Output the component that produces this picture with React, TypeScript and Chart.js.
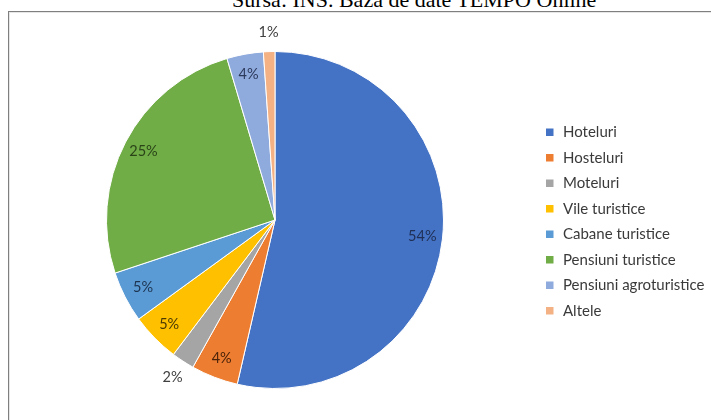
import React, { useEffect, useRef } from "react";
import { Chart, registerables } from "chart.js";

Chart.register(...registerables);

const titleText = "Sursa: INS. Baza de date TEMPO Online";
const categories = [
  "Hoteluri",
  "Hosteluri",
  "Moteluri",
  "Vile turistice",
  "Cabane turistice",
  "Pensiuni turistice",
  "Pensiuni agroturistice",
  "Altele",
];
const shares = [53.6, 4.5, 2.2, 4.7, 4.9, 25.5, 3.5, 1.1];
const percentLabels = ["54%", "4%", "2%", "5%", "5%", "25%", "4%", "1%"];
const labelOutside = [false, false, true, false, false, false, false, true];
const sliceColors = [
  "#4472C4",
  "#ED7D31",
  "#A5A5A5",
  "#FFC000",
  "#5B9BD5",
  "#70AD47",
  "#8FAADC",
  "#F4B183",
];
const labelColors = [
  "#1F2F55",
  "#4A230A",
  "#404040",
  "#4A3A05",
  "#1D3450",
  "#2A4418",
  "#2C3A5C",
  "#404040",
];

const LEGEND_X = 546;
const LEGEND_Y0 = 132;
const LEGEND_STEP = 25.5;

const labelPlugin = {
  id: "pctLabels",
  afterDatasetsDraw(chart: any) {
    const ctx = chart.ctx;
    const meta = chart.getDatasetMeta(0);
    ctx.save();
    ctx.font = "14.5px Lato";
    ctx.textAlign = "center";
    ctx.textBaseline = "middle";
    meta.data.forEach((arc: any, i: number) => {
      const p = arc.getProps(["x", "y", "startAngle", "endAngle", "outerRadius"], true);
      const mid = (p.startAngle + p.endAngle) / 2;
      const r = labelOutside[i] ? p.outerRadius + 19 : p.outerRadius * 0.88;
      ctx.fillStyle = labelColors[i];
      ctx.fillText(percentLabels[i], p.x + Math.cos(mid) * r, p.y + Math.sin(mid) * r);
    });
    ctx.restore();
  },
};

const legendPlugin = {
  id: "customLegend",
  afterDraw(chart: any) {
    const ctx = chart.ctx;
    const labels = chart.data.labels as string[];
    const colors = chart.data.datasets[0].backgroundColor as string[];
    ctx.save();
    ctx.font = "15px Lato";
    ctx.textBaseline = "middle";
    ctx.textAlign = "left";
    labels.forEach((lab, i) => {
      const y = LEGEND_Y0 + i * LEGEND_STEP;
      ctx.fillStyle = colors[i];
      ctx.fillRect(LEGEND_X, y - 3.5, 7.5, 7.5);
      ctx.fillStyle = "#3a3a3a";
      ctx.fillText(lab, LEGEND_X + 17, y + 0.5);
    });
    ctx.restore();
  },
};

export default function App() {
  const canvasRef = useRef<HTMLCanvasElement | null>(null);

  useEffect(() => {
    if (!canvasRef.current) return;
    const chart = new Chart(canvasRef.current, {
      type: "pie",
      data: {
        labels: categories,
        datasets: [
          {
            data: shares,
            backgroundColor: sliceColors,
            borderColor: "#ffffff",
            borderWidth: 1,
          },
        ],
      },
      options: {
        responsive: false,
        animation: false,
        layout: { padding: { left: 106, right: 267, top: 51, bottom: 31 } },
        plugins: {
          legend: { display: false },
          tooltip: { enabled: false },
          title: { display: false },
        },
      },
      plugins: [labelPlugin, legendPlugin],
    });
    return () => chart.destroy();
  }, []);

  return (
    <div style={{ position: "fixed", left: 0, top: 0, width: 711, height: 420, overflow: "hidden", background: "#fff" }}>
      <div
        style={{
          position: "absolute",
          left: 8,
          top: 11,
          width: 720,
          height: 430,
          borderLeft: "1px solid #7f7f7f",
          borderTop: "1px solid #7f7f7f",
          boxShadow: "inset 1px 1px 0 #e6e6e6",
        }}
      />
      <div
        style={{
          position: "absolute",
          left: 232,
          top: -11,
          fontFamily: "'Liberation Serif', serif",
          fontSize: 22,
          lineHeight: "22px",
          whiteSpace: "nowrap",
          color: "#000",
        }}
      >
        {titleText}
      </div>
      <canvas
        ref={canvasRef}
        width={711}
        height={420}
        style={{ position: "absolute", left: 0, top: 0, width: 711, height: 420 }}
      />
    </div>
  );
}
